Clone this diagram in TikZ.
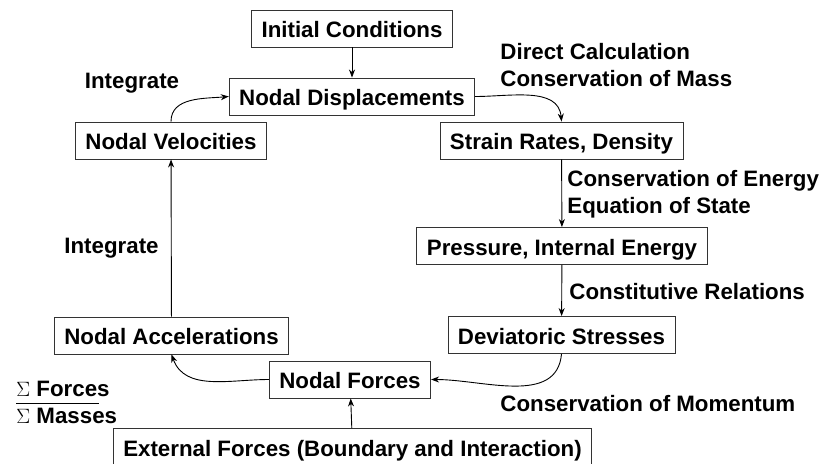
\documentclass[tikz,border=0pt]{standalone}
\usepackage{fontspec}
\setmainfont{Liberation Sans}
\usepackage{tikz}
\usetikzlibrary{arrows.meta, positioning}

\begin{document}
\begin{tikzpicture}[x=1pt, y=-1pt, >={Stealth[length=8pt, width=6pt, inset=2.5pt]},
    line width=0.9pt,
    font=\bfseries\fontsize{22.3pt}{27pt}\selectfont,
    stage/.style={draw=black!80, line width=0.9pt, inner xsep=10pt, inner ysep=0pt,
      minimum height=37pt, text height=20pt, text depth=2pt},
    note/.style={align=left, anchor=west, inner sep=0pt}]
    \useasboundingbox (0,0) rectangle (821,463);
    % Nodes
    \node[stage] (init) at (352, 28.5) {Initial Conditions};
    \node[stage] (disp) at (352, 96.5) {Nodal Displacements};
    \node[stage] (vel) at (171, 140.5) {Nodal Velocities};
    \node[stage] (strain) at (561.5, 140.5) {Strain Rates, Density};
    \node[stage] (press) at (562, 246) {Pressure, Internal Energy};
    \node[stage] (dev) at (561.5, 335) {Deviatoric Stresses};
    \node[stage] (forces) at (350, 379.5) {Nodal Forces};
    \node[stage] (accel) at (171.5, 335.5) {Nodal Accelerations};
    \node[stage] (ext) at (352.5, 447) {External Forces (Boundary and Interaction)};

    % Labels
    \node[note, anchor=center] (intA) at (132, 83) {Integrate};
    \node[note, anchor=center] (intB) at (111.5, 248) {Integrate};
    \node[note] (mass) at (500, 65.5) {Direct Calculation\\Conservation of Mass};
    \node[note] (energy) at (567, 194.5) {Conservation of Energy\\Equation of State};
    \node[note] (const) at (569, 292) {Constitutive Relations};
    \node[note] (mom) at (500, 404) {Conservation of Momentum};
    \node[note] (sums) at (16, 402) {$\Sigma$ Forces\\$\Sigma$ Masses};
    \draw[line width=1pt] ([yshift=-1pt]sums.west) -- ++(83, 0);

    % Edges
    \draw[->] (init) -- (disp);
    \draw[->] (strain) -- (press);
    \draw[->] (press) -- (dev);
    \draw[->] (accel) -- (vel);
    \draw[->] (ext) -- (forces);

    % Curved lines
    \draw[->] (vel.north) to[out=90, in=185] (disp.west);
    \draw[->] (disp.east) to[out=0, in=95] (strain.north);
    \draw[->] (dev.south) to[out=-95, in=0] (forces.east);
    \draw[->] (forces.west) to[out=180, in=-70] (accel.south);
\end{tikzpicture}
\end{document}
